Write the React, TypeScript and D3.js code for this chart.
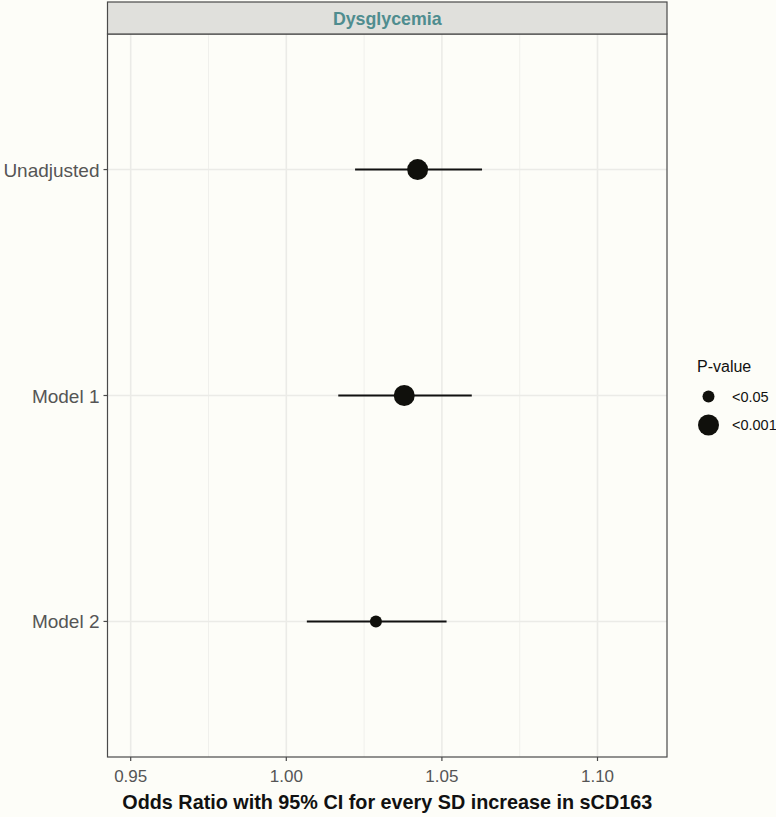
import React, { useEffect, useRef } from "react";
import * as d3 from "d3";

// forest plot: odds ratio per SD sCD163, faceted "Dysglycemia"
const models = ["Unadjusted", "Model 1", "Model 2"];
const oddsRatio = [1.0422, 1.0379, 1.0288];
const ciLow = [1.0221, 1.0167, 1.0066];
const ciHigh = [1.0629, 1.0596, 1.0515];
const pGroup = ["<0.001", "<0.001", "<0.05"];
const pLevels = ["<0.05", "<0.001"];
const xTicks = [0.95, 1.0, 1.05, 1.1];
const xMinor = [0.975, 1.025, 1.075];

const W = 776;
const H = 817;

const App = () => {
    const container = useRef<SVGSVGElement>(null);

    useEffect(() => {
        const svg = d3.select(container.current);
        svg.selectAll("*").remove();

        const font = "'Liberation Sans', Arial, sans-serif";
        const bg = "#fdfdf8";
        const panel = { left: 107.5, right: 667, top: 34, bottom: 757 };
        const strip = { top: 2, bottom: 34 };

        svg.append("rect").attr("width", W).attr("height", H).attr("fill", bg);

        const x = d3.scaleLinear()
            .domain([0.95, 1.1])
            .range([130.7, 597.5]);

        const y = d3.scalePoint()
            .domain(models)
            .range([panel.top, panel.bottom])
            .padding(0.6);

        const size = d3.scaleOrdinal<string, number>()
            .domain(pLevels)
            .range([6, 10.5]);

        // grid
        const grid = svg.append("g");
        grid.selectAll(".minor")
            .data(xMinor)
            .enter()
            .append("line")
            .attr("x1", (d) => x(d)).attr("x2", (d) => x(d))
            .attr("y1", panel.top).attr("y2", panel.bottom)
            .attr("stroke", "#f0f0ec").attr("stroke-width", 1);
        grid.selectAll(".major")
            .data(xTicks)
            .enter()
            .append("line")
            .attr("x1", (d) => x(d)).attr("x2", (d) => x(d))
            .attr("y1", panel.top).attr("y2", panel.bottom)
            .attr("stroke", "#ebebe7").attr("stroke-width", 1.6);
        grid.selectAll(".hmajor")
            .data(models)
            .enter()
            .append("line")
            .attr("x1", panel.left).attr("x2", panel.right)
            .attr("y1", (d) => y(d)!).attr("y2", (d) => y(d)!)
            .attr("stroke", "#ebebe7").attr("stroke-width", 1.6);

        // CI lines
        svg.selectAll(".ci")
            .data(models)
            .enter()
            .append("line")
            .attr("x1", (d, i) => x(ciLow[i]))
            .attr("x2", (d, i) => x(ciHigh[i]))
            .attr("y1", (d) => y(d)!).attr("y2", (d) => y(d)!)
            .attr("stroke", "#111111").attr("stroke-width", 2);

        // points
        svg.selectAll(".pt")
            .data(models)
            .enter()
            .append("circle")
            .attr("cx", (d, i) => x(oddsRatio[i]))
            .attr("cy", (d) => y(d)!)
            .attr("r", (d, i) => size(pGroup[i]))
            .attr("fill", "#10100c");

        // panel border
        svg.append("rect")
            .attr("x", panel.left).attr("y", panel.top)
            .attr("width", panel.right - panel.left)
            .attr("height", panel.bottom - panel.top)
            .attr("fill", "none").attr("stroke", "#4a4a4a").attr("stroke-width", 1.2);

        // strip
        svg.append("rect")
            .attr("x", panel.left).attr("y", strip.top)
            .attr("width", panel.right - panel.left)
            .attr("height", strip.bottom - strip.top)
            .attr("fill", "#e0e0dc").attr("stroke", "#4a4a4a").attr("stroke-width", 1.2);
        svg.append("text")
            .attr("x", (panel.left + panel.right) / 2)
            .attr("y", (strip.top + strip.bottom) / 2 + 6.5)
            .attr("text-anchor", "middle")
            .attr("font-family", font).attr("font-size", 17.8).attr("font-weight", "bold")
            .attr("fill", "#4f8d8f")
            .text("Dysglycemia");

        // x axis
        const xa = svg.append("g");
        xa.selectAll(".tick")
            .data(xTicks)
            .enter()
            .append("line")
            .attr("x1", (d) => x(d)).attr("x2", (d) => x(d))
            .attr("y1", panel.bottom).attr("y2", panel.bottom + 4)
            .attr("stroke", "#4a4a4a").attr("stroke-width", 1.2);
        xa.selectAll(".lab")
            .data(xTicks)
            .enter()
            .append("text")
            .attr("x", (d) => x(d))
            .attr("y", 782)
            .attr("text-anchor", "middle")
            .attr("font-family", font).attr("font-size", 17)
            .attr("fill", "#555555")
            .text((d) => d3.format(".2f")(d));
        svg.append("text")
            .attr("x", (panel.left + panel.right) / 2)
            .attr("y", 809)
            .attr("text-anchor", "middle")
            .attr("font-family", font).attr("font-size", 19.8).attr("font-weight", "bold")
            .attr("fill", "#111111")
            .text("Odds Ratio with 95% CI for every SD increase in sCD163");

        // y axis
        const ya = svg.append("g");
        ya.selectAll(".tick")
            .data(models)
            .enter()
            .append("line")
            .attr("x1", panel.left - 4).attr("x2", panel.left)
            .attr("y1", (d) => y(d)!).attr("y2", (d) => y(d)!)
            .attr("stroke", "#4a4a4a").attr("stroke-width", 1.2);
        ya.selectAll(".lab")
            .data(models)
            .enter()
            .append("text")
            .attr("x", panel.left - 8)
            .attr("y", (d) => y(d)! + 7)
            .attr("text-anchor", "end")
            .attr("font-family", font).attr("font-size", 19)
            .attr("fill", "#555555")
            .text((d) => d);

        // legend
        const lg = svg.append("g");
        lg.append("text")
            .attr("x", 697).attr("y", 372)
            .attr("font-family", font).attr("font-size", 16)
            .attr("fill", "#111111")
            .text("P-value");
        const ly = [396.5, 425];
        lg.selectAll(".key")
            .data(pLevels)
            .enter()
            .append("circle")
            .attr("cx", 708.5)
            .attr("cy", (d, i) => ly[i])
            .attr("r", (d) => size(d))
            .attr("fill", "#10100c");
        lg.selectAll(".klab")
            .data(pLevels)
            .enter()
            .append("text")
            .attr("x", 732)
            .attr("y", (d, i) => ly[i] + 5)
            .attr("font-family", font).attr("font-size", 14.5)
            .attr("fill", "#111111")
            .text((d) => d);
    }, []);

    return (
        <svg ref={container} width={W} height={H}
            style={{ position: "absolute", left: 0, top: 0 }}></svg>
    );
};

export default App;
